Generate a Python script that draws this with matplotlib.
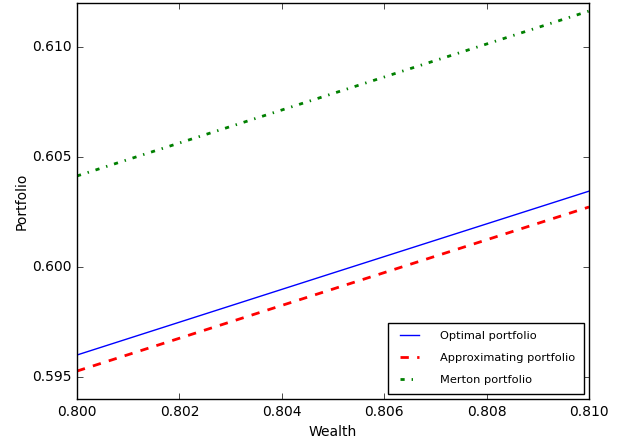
import matplotlib
matplotlib.use("Agg")
import matplotlib.pyplot as plt

plt.style.use("classic")
plt.rcParams["font.family"] = ["DejaVu Sans"]
plt.rcParams["font.size"] = 10

wealth = [0.800, 0.805, 0.810]
optimal = [0.5960, 0.59973, 0.60345]
approx = [0.59527, 0.59900, 0.60273]
merton = [0.60414, 0.60789, 0.61164]

fig = plt.figure(figsize=(6.28, 4.42), dpi=100, facecolor="white")
ax = fig.add_axes([0.1226, 0.0973, 0.8154, 0.8957])
ax.plot(wealth, optimal, color="blue", linestyle="-", linewidth=1, label="Optimal portfolio")
ax.plot(wealth, approx, color="red", linestyle="--", linewidth=2, label="Approximating portfolio")
ax.plot(wealth, merton, color="green", linestyle="-.", linewidth=2, label="Merton portfolio")
ax.set_xlim(0.800, 0.810)
ax.set_ylim(0.594, 0.612)
ax.set_xticks([0.800, 0.802, 0.804, 0.806, 0.808, 0.810])
ax.set_yticks([0.595, 0.600, 0.605, 0.610])
ax.set_xlabel("Wealth")
ax.set_ylabel("Portfolio", labelpad=2)
ax.legend(loc="lower right", fontsize=8.2, labelspacing=1.05, borderpad=0.75,
          handlelength=2.2, handletextpad=1.6, borderaxespad=0.45)
fig.savefig("out.png", dpi=100, facecolor="white")
